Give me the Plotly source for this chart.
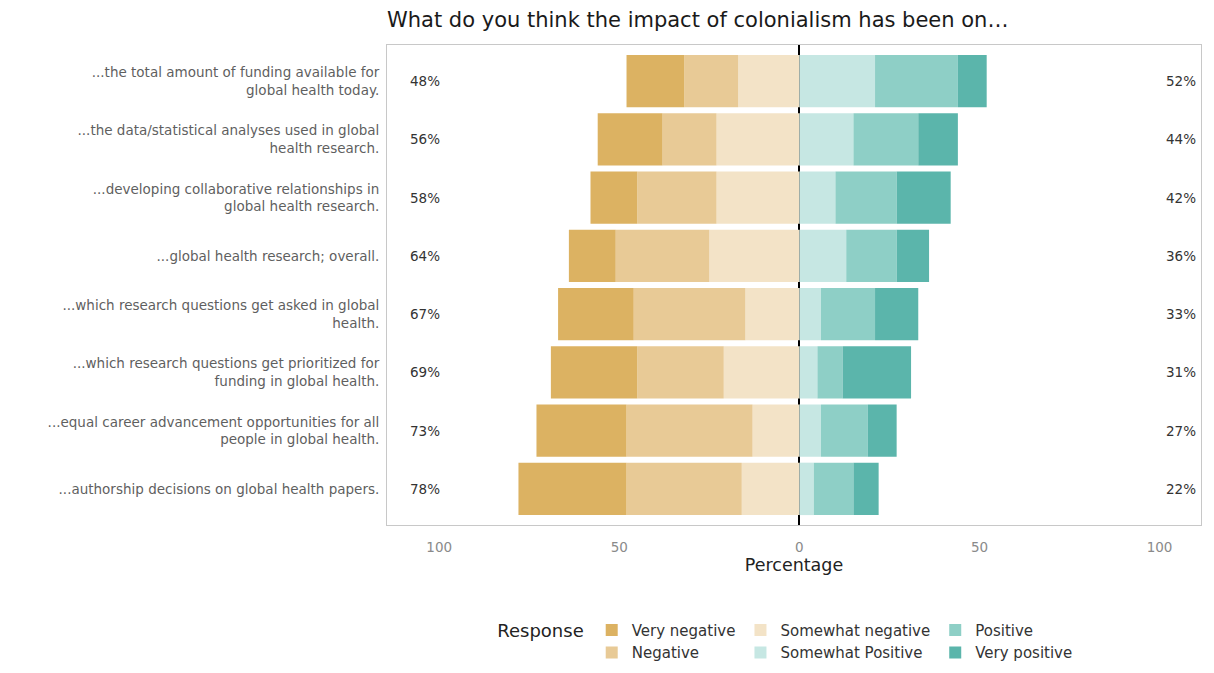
import plotly.graph_objects as go

categories = [
    "...the total amount of funding available for<br>global health today.",
    "...the data/statistical analyses used in global<br>health research.",
    "...developing collaborative relationships in<br>global health research.",
    "...global health research; overall.",
    "...which research questions get asked in global<br>health.",
    "...which research questions get prioritized for<br>funding in global health.",
    "...equal career advancement opportunities for all<br>people in global health.",
    "...authorship decisions on global health papers.",
]

very_negative = [16, 18, 13, 13, 21, 24, 25, 30]
negative = [15, 15, 22, 26, 31, 24, 35, 32]
somewhat_negative = [17, 23, 23, 25, 15, 21, 13, 16]
somewhat_positive = [21, 15, 10, 13, 6, 5, 6, 4]
positive = [23, 18, 17, 14, 15, 7, 13, 11]
very_positive = [8, 11, 15, 9, 12, 19, 8, 7]

x_tickvals = [-100, -50, 0, 50, 100]
x_ticktext = ["100", "50", "0", "50", "100"]

colors = {
    "Very negative": "#dcb262",
    "Negative": "#e8ca96",
    "Somewhat negative": "#f3e3c7",
    "Somewhat Positive": "#c6e7e3",
    "Positive": "#8ecfc6",
    "Very positive": "#5bb5ab",
}

FONT = "DejaVu Sans, Verdana, sans-serif"

# stacking order (closest to zero first), with legend group / rank
series = [
    ("Somewhat negative", somewhat_negative, -1, "g2", 3),
    ("Negative", negative, -1, "g1", 2),
    ("Very negative", very_negative, -1, "g1", 1),
    ("Somewhat Positive", somewhat_positive, 1, "g2", 4),
    ("Positive", positive, 1, "g3", 5),
    ("Very positive", very_positive, 1, "g3", 6),
]

fig = go.Figure()
for name, vals, sign, grp, rank in series:
    fig.add_trace(go.Bar(
        y=categories,
        x=[sign * v for v in vals],
        name=name,
        orientation="h",
        width=0.9,
        marker=dict(color=colors[name], line=dict(width=0)),
        legendgroup=grp,
        legendrank=rank,
    ))

neg_tot = [a + b + c for a, b, c in zip(very_negative, negative, somewhat_negative)]
pos_tot = [a + b + c for a, b, c in zip(somewhat_positive, positive, very_positive)]
for cat, n, p in zip(categories, neg_tot, pos_tot):
    fig.add_annotation(x=-104, y=cat, text=f"{n}%", showarrow=False,
                       font=dict(size=13.5, color="#333333", family=FONT))
    fig.add_annotation(x=106, y=cat, text=f"{p}%", showarrow=False,
                       font=dict(size=13.5, color="#333333", family=FONT))

fig.update_layout(
    width=1214, height=673,
    barmode="relative",
    bargap=0.1,
    paper_bgcolor="white",
    plot_bgcolor="white",
    font=dict(family=FONT, color="#333333"),
    margin=dict(l=379, r=21, t=37, b=153),
    title=dict(
        text="What do you think the impact of colonialism has been on…",
        x=0, xref="paper", xanchor="left",
        y=0.982, yref="container", yanchor="middle",
        font=dict(size=21, color="#1a1a1a", family=FONT),
    ),
    xaxis=dict(
        range=[-114.5, 111.5],
        tickvals=x_tickvals, ticktext=x_ticktext,
        tickfont=dict(size=13.5, color="#8a8a8a", family=FONT),
        showgrid=False,
        zeroline=True, zerolinecolor="black", zerolinewidth=1.5,
        showline=True, mirror=True, linecolor="#c8c8c8", linewidth=1,
        ticks="",
        ticklabelstandoff=10,
        title=dict(text="Percentage", font=dict(size=17.5, color="#222222", family=FONT), standoff=4),
    ),
    yaxis=dict(
        categoryorder="array", categoryarray=categories,
        range=[7.62, -0.62],
        tickfont=dict(size=13.5, color="#5f5f5f", family=FONT),
        showgrid=False,
        showline=True, mirror=True, linecolor="#c8c8c8", linewidth=1,
        ticks="",
        ticklabelstandoff=4,
    ),
    legend=dict(
        orientation="h",
        traceorder="grouped",
        x=0.133, xanchor="left",
        y=-0.185, yanchor="top",
        title=dict(text="Response", font=dict(size=18, color="#222222", family=FONT), side="left"),
        font=dict(size=15, color="#333333", family=FONT),
        tracegroupgap=23,
        itemwidth=30,
    ),
)

fig.write_html("out.html")
